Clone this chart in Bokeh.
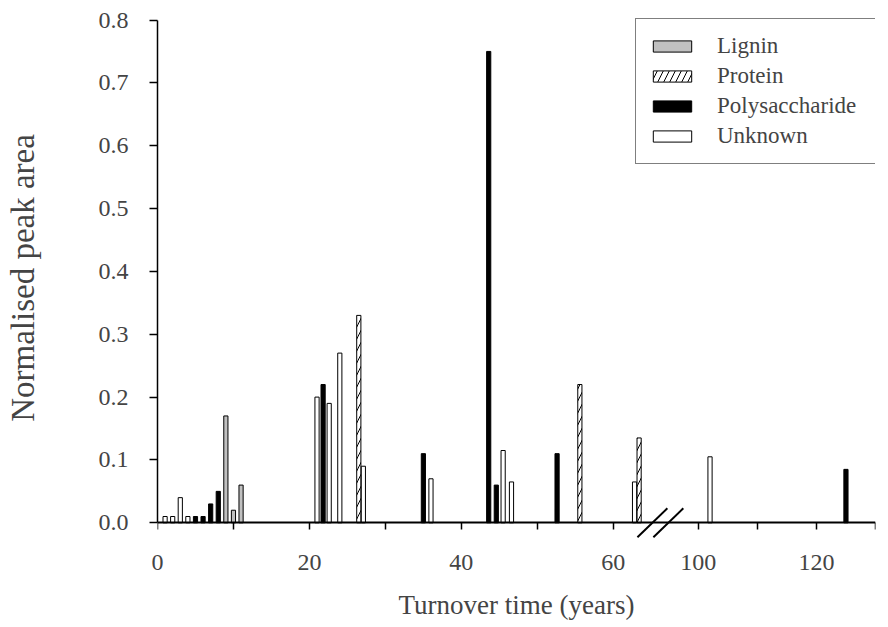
from bokeh.plotting import figure
from bokeh.models import (Range1d, FixedTicker, CustomJSTickFormatter, Legend, LegendItem,
                          ColumnDataSource, NumeralTickFormatter, LinearAxis)
from bokeh.embed import file_html
from bokeh.resources import INLINE

# ---------------- data ----------------
lignin_time = [9, 10, 11]
lignin_area = [0.17, 0.02, 0.06]

protein_time = [26.5, 55.6, 63.4]
protein_area = [0.33, 0.22, 0.135]

poly_time = [5, 6, 7, 8, 21.8, 35, 43.6, 44.6, 52.6, 125]
poly_area = [0.01, 0.01, 0.03, 0.05, 0.22, 0.11, 0.75, 0.06, 0.11, 0.085]

unknown_time = [1, 2, 3, 4, 21, 22.6, 24, 27.1, 36, 45.5, 46.6, 62.8, 102]
unknown_area = [0.01, 0.01, 0.04, 0.01, 0.20, 0.19, 0.27, 0.09, 0.07, 0.115, 0.065, 0.065, 0.105]

x_tick_values = [0, 10, 20, 30, 40, 50, 60, 100, 110, 120, 130]
x_label_values = [0, 20, 40, 60, 100, 120]
x_label_texts = ["0", "20", "40", "60", "100", "120"]
y_tick_values = [0.0, 0.1, 0.2, 0.3, 0.4, 0.5, 0.6, 0.7, 0.8]

# ---------------- broken axis ----------------
BREAK_LOW = 66.2     # years where the left segment ends
BREAK_HIGH = 93.6    # years where the right segment starts
HIGH_SCALE = 0.778   # compression of the right segment
X_MAX = 130


def to_axis(t):
    return t if t <= BREAK_LOW else BREAK_LOW + (t - BREAK_HIGH) * HIGH_SCALE


FONT = "Liberation Serif"

p = figure(frame_width=718, frame_height=521,
           min_border_left=157, min_border_right=13, min_border_top=17, min_border_bottom=0,
           x_range=Range1d(0, to_axis(X_MAX)), y_range=Range1d(-0.025, 0.804),
           output_backend="svg", toolbar_location=None,
           background_fill_color="white", border_fill_color="white")
p.outline_line_color = None
p.xgrid.visible = False
p.ygrid.visible = False

BAR_W = 0.55


def src(times, areas):
    return ColumnDataSource(dict(x=[to_axis(t) for t in times], top=areas))


r_lig = p.vbar(x="x", top="top", bottom=0, width=BAR_W, source=src(lignin_time, lignin_area),
               fill_color="#c0c0c0", line_color="black", line_width=1)
r_pro = p.vbar(x="x", top="top", bottom=0, width=BAR_W, source=src(protein_time, protein_area),
               fill_color="white", line_color="black", line_width=1,
               hatch_pattern="/", hatch_color="black", hatch_scale=12, hatch_weight=1)
r_pol = p.vbar(x="x", top="top", bottom=0, width=BAR_W, source=src(poly_time, poly_area),
               fill_color="black", line_color="black", line_width=1)
r_unk = p.vbar(x="x", top="top", bottom=0, width=BAR_W, source=src(unknown_time, unknown_area),
               fill_color="white", line_color="black", line_width=1)

# ---------------- x axis line + ticks, drawn at y = 0 ----------------
xa = p.xaxis[0]
xa.fixed_location = 0
xa.ticker = FixedTicker(ticks=[to_axis(t) for t in x_tick_values])
xa.axis_line_width = 2
xa.axis_line_color = "black"
xa.major_tick_out = 7
xa.major_tick_in = 0
xa.major_tick_line_width = 1.5
xa.minor_tick_line_color = None
xa.major_label_text_color = None

# ---------------- x tick labels and title (below the frame) ----------------
x_label_pos = [to_axis(t) for t in x_label_values]
xb = LinearAxis(ticker=FixedTicker(ticks=x_label_pos),
                formatter=CustomJSTickFormatter(
                    args=dict(vals=x_label_pos, labels=x_label_texts),
                    code="""
let best = 0;
for (let i = 0; i < vals.length; i++) {
  if (Math.abs(vals[i] - tick) < Math.abs(vals[best] - tick)) best = i;
}
return labels[best];
"""),
                axis_line_color=None, major_tick_line_color=None, minor_tick_line_color=None,
                major_tick_out=0, major_tick_in=0, major_label_standoff=16,
                major_label_text_font=FONT, major_label_text_font_size="24px",
                axis_label="Turnover time (years)", axis_label_text_font=FONT,
                axis_label_text_font_size="27px", axis_label_text_font_style="normal",
                axis_label_standoff=17)
p.add_layout(xb, "below")

# ---------------- y axis ----------------
ya = p.yaxis[0]
ya.ticker = FixedTicker(ticks=y_tick_values)
ya.formatter = NumeralTickFormatter(format="0.0")
ya.bounds = (0, 0.8)
ya.axis_line_width = 1.5
ya.major_tick_out = 8
ya.major_tick_in = 0
ya.major_tick_line_width = 1.5
ya.minor_tick_line_color = None
ya.major_label_text_font = FONT
ya.major_label_text_font_size = "24px"
ya.major_label_standoff = 21
ya.axis_label = "Normalised peak area"
ya.axis_label_text_font = FONT
ya.axis_label_text_font_size = "33px"
ya.axis_label_text_font_style = "normal"
ya.axis_label_standoff = 55

# ---------------- axis break marks ----------------
BRK_DX = 1.97
BRK_DY = 0.023
brk_x = [BREAK_LOW - 1.05, BREAK_LOW + 1.05]
p.segment(x0=[x - BRK_DX for x in brk_x], y0=[-BRK_DY] * 2,
          x1=[x + BRK_DX for x in brk_x], y1=[BRK_DY] * 2,
          line_width=2, line_color="black")

# ---------------- legend ----------------
legend = Legend(items=[LegendItem(label="Lignin", renderers=[r_lig]),
                       LegendItem(label="Protein", renderers=[r_pro]),
                       LegendItem(label="Polysaccharide", renderers=[r_pol]),
                       LegendItem(label="Unknown", renderers=[r_unk])],
                location=(478, 374),
                label_text_font=FONT, label_text_font_size="23px",
                glyph_width=48, glyph_height=14, label_standoff=21,
                label_width=170, label_height=30,
                padding=12, spacing=0,
                border_line_color="black", border_line_width=1,
                background_fill_color="white", background_fill_alpha=1.0)
p.add_layout(legend)

open("out.html", "w").write(file_html(p, INLINE))
